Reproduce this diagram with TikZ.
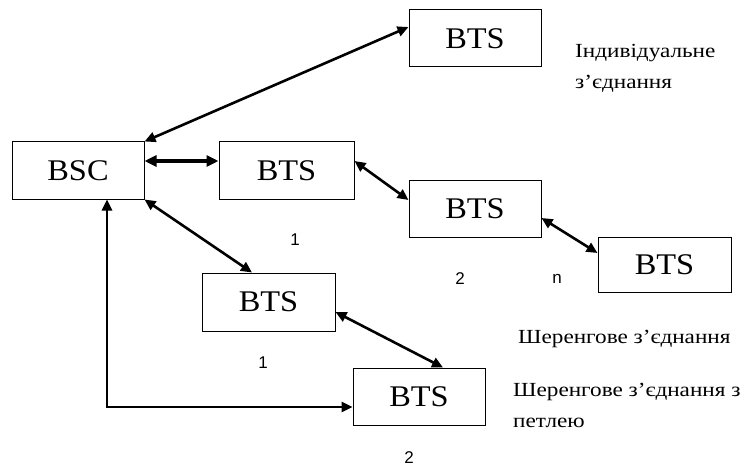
\documentclass[tikz,border=0pt]{standalone}
\usepackage{fontspec}
\setmainfont{Liberation Serif}
\newfontfamily\boxfont[FakeStretch=1.08]{Liberation Serif}
\newfontfamily\lblfont[FakeStretch=1.16]{Liberation Serif}
\newfontfamily\numfont{Liberation Sans}
\usetikzlibrary{arrows.meta,calc}
\begin{document}
\begin{tikzpicture}[x=1pt,y=-1pt,
  unit/.style={draw, line width=1pt, rectangle, inner sep=0pt,
    minimum width=132pt, minimum height=57pt,
    font=\boxfont\fontsize{30}{32}\selectfont},
  link/.style={line width=2.6pt, {Triangle[length=11pt,width=10pt]}-{Triangle[length=11pt,width=10pt]}},
  thicklink/.style={line width=4pt, {Triangle[length=12pt,width=11pt]}-{Triangle[length=12pt,width=11pt]}},
  lbl/.style={anchor=base west, inner sep=0pt, font=\lblfont\fontsize{20}{24}\selectfont},
  num/.style={inner sep=0pt, font=\numfont\fontsize{17}{19}\selectfont}]
\useasboundingbox[fill=white] (0,0) rectangle (744,468);

\node[unit] (top) at (475,38.5) {BTS};
\node[unit] (bsc) at (78,170.5) {BSC};
\node[unit, minimum width=135pt] (mid) at (286.5,170.5) {BTS};
\node[unit] (b2) at (475,208.5) {BTS};
\node[unit, minimum width=133pt, minimum height=55pt] (right) at (664.5,264.5) {BTS};
\node[unit, minimum width=133pt, minimum height=58pt] (lower) at (268.5,302) {BTS};
\node[unit] (bottom) at (419,396.5) {BTS};

\draw[link] ($(top.west)+(0pt,11.5pt)$) -- (bsc.north east);
\draw[thicklink] ($(bsc.east)+(0pt,9.5pt)$) -- ($(mid.west)+(0pt,9.5pt)$);
\draw[link] ($(mid.east)+(0pt,9.5pt)$) -- ($(b2.west)+(0pt,8.5pt)$);
\draw[link] ($(b2.east)+(0pt,-9.5pt)$) -- ($(right.west)+(0pt,11.5pt)$);
\draw[link] (bsc.south east) -- ($(lower.north)+(-16.5pt,0pt)$);
\draw[link] ($(lower.east)+(0pt,-10pt)$) -- ($(bottom.north)+(24pt,0pt)$);
\draw[link] ($(bsc.south)+(29pt,0pt)$) |- ($(bottom.west)+(0pt,-10.5pt)$);

\node[lbl] (ind1) at (575,58) {Індивідуальне};
\node[lbl] (ind2) at (575,89) {з’єднання};
\node[lbl] (sh1) at (518,343) {Шеренгове з’єднання};
\node[lbl] (sh2) at (513,396) {Шеренгове з’єднання з};
\node[lbl] (sh3) at (513,427) {петлею};

\node[num] (n1) at (295,240) {1};
\node[num] (n2) at (460,279) {2};
\node[num] (nn) at (557,279) {n};
\node[num] (n3) at (263,363) {1};
\node[num] (n4) at (409,458) {2};
\end{tikzpicture}
\end{document}
